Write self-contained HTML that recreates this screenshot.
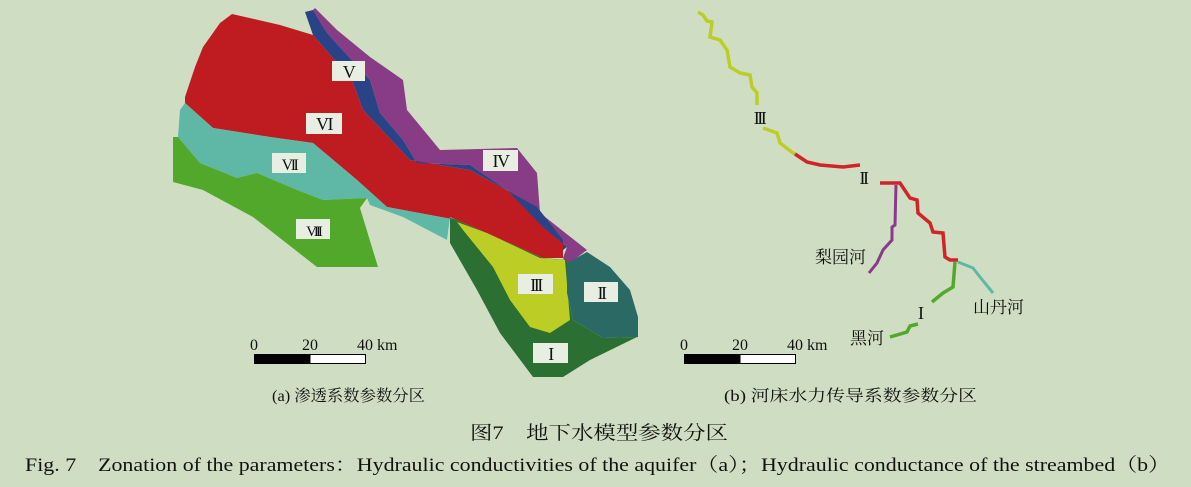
<!DOCTYPE html>
<html><head><meta charset="utf-8"><style>
body{margin:0;background:#cfdec2;}
svg{display:block}
.cn{font-family:"Liberation Serif","Noto Serif CJK SC","Noto Sans CJK SC",serif;}
.ser{font-family:"Liberation Serif",serif;}
</style></head><body>
<svg width="1191" height="487" viewBox="0 0 1191 487">
<rect width="1191" height="487" fill="#cfdec2"/>
<g>
<polygon fill="#be1c20" points="232,14 280,25 313,35 352,80 363,110 410,160 470,170 537,207 563,240 563,258 543,258 457,220 387,207 357,180 313,143 270,137 213,128 185,103 185,97 195,67 203,47 220,23"/>
<polygon fill="#5fb8a6" points="185,103 213,128 270,137 313,143 357,180 387,207 457,220 450,217 447,240 403,217 370,205 367,198 323,200 297,190 257,173 237,178 200,163 178,137 180,110"/>
<polygon fill="#52a82a" points="178,137 200,163 237,178 257,173 297,190 323,200 367,198 360,208 378,267 317,267 253,217 203,190 173,182 173,137"/>
<polygon fill="#873c85" points="315,8 337,30 370,57 403,80 407,110 440,150 517,148 537,173 540,213 587,250 567,265 563,258 567,247 543,227 507,190 470,165 417,163 403,140 380,113 370,80 327,33 313,10"/>
<polygon fill="#2a4286" points="305,12 313,10 327,33 370,80 380,113 403,140 417,163 470,165 507,190 543,227 567,247 563,250 563,240 537,207 470,170 410,160 363,110 352,80 313,35"/>
<polygon fill="#2c6f33" points="450,218 457,220 543,258 567,260 567,293 573,320 603,338 637,337 590,360 563,377 533,377 500,333 477,290 450,243"/>
<polygon fill="#bccd26" points="457,222 487,233 540,258 565,260 570,320 550,333 530,327 510,300 493,267 463,230"/>
<polygon fill="#2b6a64" points="567,263 587,252 610,267 630,290 638,317 638,337 603,338 573,320 567,293"/>
<g class="ser" font-size="18" text-anchor="middle" fill="#111" letter-spacing="-1.5">
<rect x="332" y="61" width="33" height="20" fill="#e8efe2"/><text x="348.5" y="78">V</text>
<rect x="306" y="113" width="36" height="21" fill="#e8efe2"/><text x="324" y="130">VI</text>
<rect x="272" y="153" width="34" height="20" fill="#e8efe2"/><text x="289" y="170" font-size="16" letter-spacing="-2.5">VII</text>
<rect x="296" y="219" width="34" height="20" fill="#e8efe2"/><text x="313" y="236" font-size="15" letter-spacing="-3">VIII</text>
<rect x="483" y="150" width="35" height="21" fill="#e8efe2"/><text x="500.5" y="167">IV</text>
<rect x="518" y="274" width="35" height="20" fill="#e8efe2"/><text x="535.5" y="291" letter-spacing="-2.5">III</text>
<rect x="584" y="282" width="34" height="20" fill="#e8efe2"/><text x="601" y="299" letter-spacing="-2.5">II</text>
<rect x="533" y="343" width="35" height="20" fill="#e8efe2"/><text x="550.5" y="360">I</text>
</g>
<g>
<rect x="254.5" y="354.5" width="111" height="9" fill="#fff" stroke="#000"/>
<rect x="254.5" y="354.5" width="56" height="9" fill="#000"/>
<g class="ser" font-size="16" fill="#111">
<text x="254" y="350" text-anchor="middle">0</text><text x="310" y="350" text-anchor="middle">20</text><text x="357" y="350">40 km</text>
</g></g>
</g>
<g fill="none" stroke-width="3.5" stroke-linejoin="miter">
<polyline stroke="#bccd26" points="698,12 703,15 707,21 712,22 710,37 720,40 727,50 730,67 740,73 750,75 752,87 757,93 757,105"/>
<polyline stroke="#bccd26" points="763,128 777,133 780,143 793,153 795,154"/>
<polyline stroke="#d0242a" points="795,154 807,162 820,165 843,167 860,165"/>
<polyline stroke="#d0242a" points="880,183 900,183 910,198 917,200 918,213 930,223 933,232 943,233 945,257 950,260 958,260"/>
<polyline stroke="#8a3a8a" stroke-width="3" points="896,185 895,225 892,227 892,240 883,250 877,263 869,273"/>
<polyline stroke="#52a82a" points="955,262 953,287 943,293 932,302"/>
<polyline stroke="#52a82a" points="918,324 910,326 907,332 890,337"/>
<polyline stroke="#5fb8a6" stroke-width="3" points="958,262 973,268 980,277 993,293"/>
<g class="cn" font-size="17" fill="#111" stroke="none">
<text x="759" y="124" text-anchor="middle" class="ser" font-size="18" letter-spacing="-2.5">III</text>
<text x="863" y="184" text-anchor="middle" class="ser" font-size="18" letter-spacing="-2.5">II</text>
<text x="921" y="319" text-anchor="middle" class="ser" font-size="18">I</text>
<text x="815" y="263">梨园河</text>
<text x="973" y="313">山丹河</text>
<text x="850" y="344">黑河</text>
</g>
<g stroke="none">
<rect x="684.5" y="354.5" width="111" height="9" fill="#fff" stroke="#000" stroke-width="1"/>
<rect x="684.5" y="354.5" width="56" height="9" fill="#000"/>
<g class="ser" font-size="16" fill="#111">
<text x="684" y="350" text-anchor="middle">0</text><text x="740" y="350" text-anchor="middle">20</text><text x="787" y="350">40 km</text>
</g></g>
</g>
<g class="cn" fill="#111">
<text x="272" y="401" font-size="16" textLength="153" lengthAdjust="spacingAndGlyphs">(a) 渗透系数参数分区</text>
<text x="724" y="401" font-size="16" textLength="253" lengthAdjust="spacingAndGlyphs">(b) 河床水力传导系数参数分区</text>
<text x="470" y="439" font-size="19" textLength="258" lengthAdjust="spacingAndGlyphs">图7　地下水模型参数分区</text>
<text x="25" y="471" font-size="19" textLength="1145" lengthAdjust="spacingAndGlyphs">Fig. 7　Zonation of the parameters：Hydraulic conductivities of the aquifer（a）；Hydraulic conductance of the streambed（b）</text>
</g>
</svg>
</body></html>
